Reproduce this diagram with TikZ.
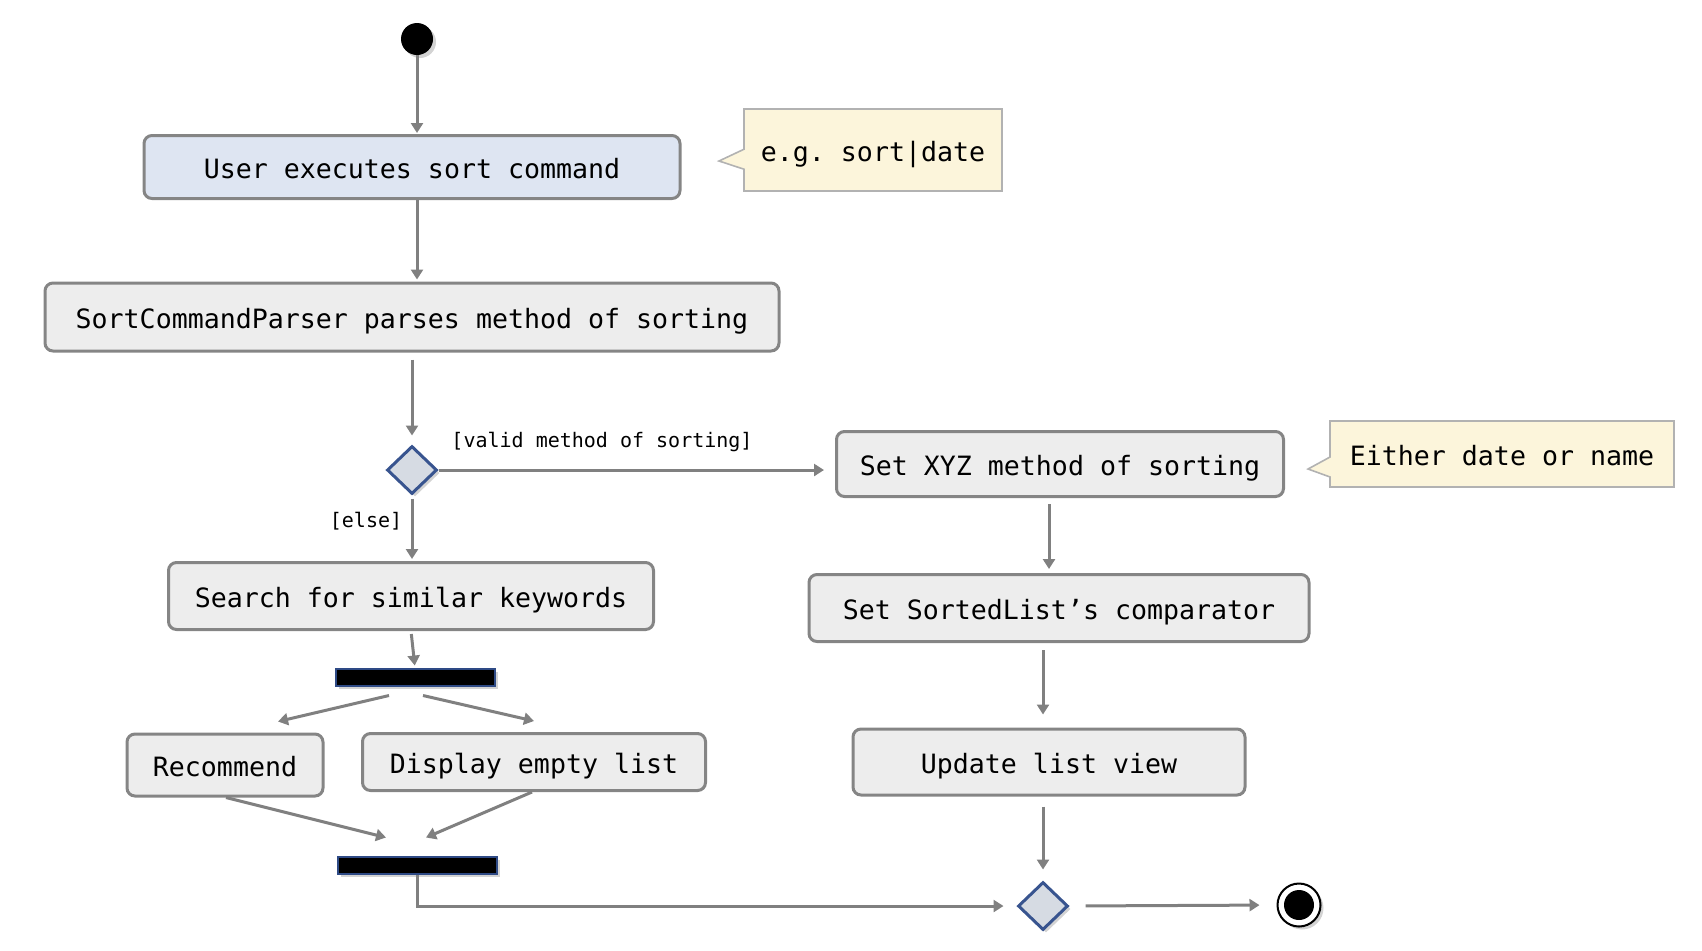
\documentclass[tikz,border=0pt]{standalone}
\usepackage{fontspec}
\setmonofont{DejaVu Sans Mono}
\usepackage{tikz}
\usetikzlibrary{arrows.meta,calc,positioning,shapes.geometric,shapes.callouts,shadows}
\definecolor{grisflecha}{rgb}{0.50,0.50,0.50}
\definecolor{grisborde}{rgb}{0.52,0.52,0.52}
\definecolor{grisfondo}{rgb}{0.93,0.93,0.93}
\definecolor{azulclaro}{rgb}{0.87,0.90,0.95}
\definecolor{crema}{rgb}{0.99,0.96,0.86}
\definecolor{bordenota}{rgb}{0.70,0.70,0.70}
\definecolor{azulrombo}{rgb}{0.22,0.33,0.56}
\definecolor{rellenorombo}{rgb}{0.84,0.86,0.89}
\definecolor{azulbarra}{rgb}{0.18,0.29,0.52}
\tikzset{
  actividad/.style={
    rectangle,
    rounded corners=4pt,
    draw=grisborde,
    line width=1.5pt,
    fill=grisfondo,
    align=center,
    inner sep=0pt,
    text height=11.5pt,
    text depth=0pt,
    font=\ttfamily\fontsize{13.3}{16}\selectfont
  },
  nota/.style={
    rectangle callout,
    draw=bordenota,
    line width=0.8pt,
    fill=crema,
    callout pointer width=10pt,
    inner sep=0pt,
    text height=11.5pt,
    text depth=0pt,
    font=\ttfamily\fontsize{13.3}{16}\selectfont
  },
  decision/.style={
    diamond,
    draw=azulrombo,
    line width=1.5pt,
    fill=rellenorombo,
    minimum width=25pt,
    minimum height=24pt,
    inner sep=0pt,
    drop shadow={shadow xshift=1.5pt,shadow yshift=-1.5pt,opacity=.35}
  },
  barra/.style={
    rectangle,
    draw=azulbarra,
    fill=black,
    line width=1pt,
    minimum width=79.5pt,
    minimum height=8.5pt,
    inner sep=0pt,
    drop shadow={shadow xshift=1.5pt,shadow yshift=-1.5pt,opacity=.35}
  },
  inicio/.style={
    circle,
    fill=black,
    minimum size=16pt,
    inner sep=0pt,
    drop shadow={shadow xshift=1.5pt,shadow yshift=-1.5pt,opacity=.35}
  },
  fin/.style={
    circle,
    draw=black,
    line width=1pt,
    fill=white,
    minimum size=21.5pt,
    inner sep=0pt,
    drop shadow={shadow xshift=1.5pt,shadow yshift=-1.5pt,opacity=.35},
    path picture={\fill[black] (path picture bounding box.center) circle (7.5pt);}
  },
  guarda/.style={
    inner sep=0pt,
    font=\ttfamily\fontsize{10}{12}\selectfont
  },
  arrow/.style={
    -{Triangle[length=5pt,width=6pt]},
    line width=1.5pt,
    grisflecha
  }
}
\begin{document}
\begin{tikzpicture}[x=0.5pt,y=-0.5pt]
\useasboundingbox (0,0) rectangle (1702,950);
\node[inicio] (ini) at (417,39) {};
\node[actividad,fill=azulclaro,minimum width=268pt,minimum height=31.5pt] (a) at (412,167) {User executes sort command};
\node[nota,minimum width=129pt,minimum height=41pt,callout absolute pointer={(719,161)}] (n1) at (873,150) {e.g. sort|date};
\node[actividad,minimum width=367pt,minimum height=34pt] (b) at (412,317) {SortCommandParser parses method of sorting};
\node[decision] (d1) at (412,470) {};
\node[guarda] (lv) at (602,442) {[valid method of sorting]};
\node[guarda] (le) at (366,521) {[else]};
\node[actividad,minimum width=223.5pt,minimum height=32.5pt] (c) at (1060,464) {Set XYZ method of sorting};
\node[nota,minimum width=172pt,minimum height=33pt,callout absolute pointer={(1308,469)}] (n2) at (1502,454) {Either date or name};
\node[actividad,minimum width=242.5pt,minimum height=33.5pt] (s) at (411,596) {Search for similar keywords};
\node[barra] (fork) at (415,677) {};
\node[actividad,minimum width=98pt,minimum height=31pt] (r) at (225,765) {Recommend};
\node[actividad,minimum width=171.5pt,minimum height=28.5pt] (v) at (534,762) {Display empty list};
\node[barra] (join) at (417,865) {};
\node[actividad,minimum width=250pt,minimum height=33.5pt] (e) at (1059,608) {Set SortedList’s comparator};
\node[actividad,minimum width=196pt,minimum height=33pt] (u) at (1049,762) {Update list view};
\node[decision] (d2) at (1043,906) {};
\node[fin] (fin) at (1299,905) {};
\draw[arrow,shorten >=0.5pt] (ini) -- (ini |- a.north);
\draw[arrow,shorten >=1pt] (ini |- a.south) -- (ini |- b.north);
\draw[arrow,shorten <=3.5pt,shorten >=4.5pt] (b.south -| d1) -- (d1.north);
\draw[arrow,shorten >=5.5pt] (d1.east) -- (d1.east -| c.west);
\draw[arrow,shorten <=1.5pt,shorten >=1pt] (d1.south) -- (d1 |- s.north);
\draw[arrow,shorten <=1.5pt,shorten >=1pt] (s.south) -- (fork.north);
\draw[arrow] ([shift={(-13pt,-4.5pt)}]fork.south) -- ([shift={(26.5pt,5.5pt)}]r.north);
\draw[arrow] ([shift={(4pt,-4.5pt)}]fork.south) -- ([yshift=5.5pt]v.north);
\draw[arrow] ([xshift=0.5pt]r.south) -- ([shift={(-15.5pt,9pt)}]join.north);
\draw[arrow] ([xshift=-1pt]v.south) -- ([shift={(4.5pt,9pt)}]join.north);
\draw[arrow,shorten >=6.5pt] (join.south) |- (d2.west);
\draw[arrow,shorten <=3pt,shorten >=2pt] (c.south -| u) -- (e.north -| u);
\draw[arrow,shorten <=3.5pt,shorten >=6.5pt] (e.south -| d2) -- (u.north -| d2);
\draw[arrow,shorten <=5pt,shorten >=5.5pt] (u.south -| d2) -- (d2.north);
\draw[arrow,shorten <=8pt,shorten >=8.5pt] (d2.east) -- (fin.west);
\end{tikzpicture}
\end{document}
